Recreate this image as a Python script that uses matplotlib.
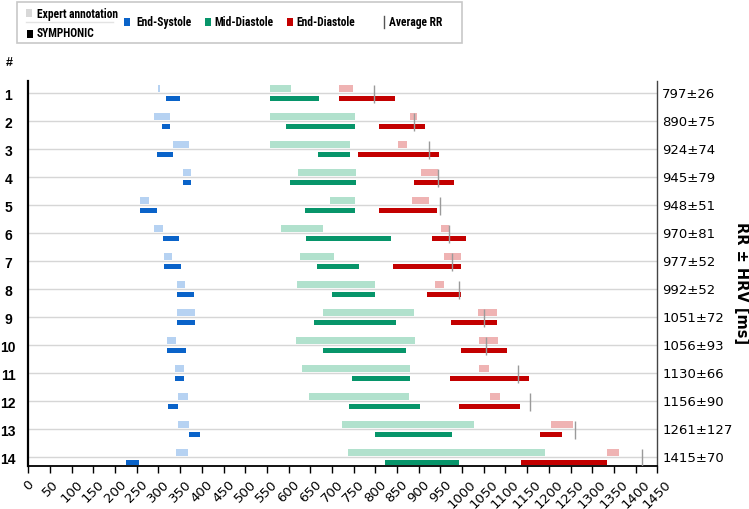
import matplotlib
matplotlib.use("Agg")
import matplotlib.pyplot as plt
from matplotlib import font_manager
from matplotlib.patches import Rectangle
from matplotlib.lines import Line2D
import numpy as np

# ---------------- data ----------------
rows = list(range(1, 15))
exp_es = [(300, 303), (290, 326), (334, 371), (357, 376), (258, 278), (290, 310), (313, 331),
          (342, 361), (342, 384), (320, 341), (338, 360), (346, 368), (345, 370), (341, 368)]
sym_es = [(318, 350), (308, 326), (297, 334), (357, 376), (258, 296), (310, 348), (313, 351),
          (342, 381), (342, 384), (320, 363), (338, 360), (322, 345), (370, 395), (226, 255)]
exp_md = [(558, 605), (558, 754), (558, 742), (622, 755), (695, 752), (583, 679), (626, 704),
          (619, 799), (679, 890), (617, 891), (632, 881), (647, 878), (723, 1027), (737, 1191)]
sym_md = [(558, 669), (593, 754), (668, 742), (603, 755), (638, 752), (640, 835), (665, 762),
          (700, 799), (659, 848), (680, 871), (746, 881), (739, 902), (800, 976), (822, 992)]
exp_ed = [(717, 749), (880, 897), (853, 872), (905, 944), (885, 924), (951, 970), (958, 998),
          (938, 958), (1037, 1080), (1040, 1083), (1039, 1062), (1064, 1087), (1205, 1255), (1333, 1362)]
sym_ed = [(717, 845), (808, 914), (761, 946), (888, 982), (809, 942), (931, 1010), (841, 998),
          (918, 998), (974, 1080), (998, 1103), (971, 1154), (994, 1134), (1179, 1230), (1135, 1333)]
rr = [797, 890, 924, 945, 948, 970, 977, 992, 1051, 1056, 1130, 1156, 1261, 1415]
hrv = [26, 75, 74, 79, 51, 81, 52, 52, 72, 93, 66, 90, 127, 70]
xticks = list(range(0, 1451, 50))
legend_labels = ["Expert annotation", "SYMPHONIC", "End-Systole", "Mid-Diastole",
                 "End-Diastole", "Average RR"]

# ---------------- style ----------------
C_ES, C_ES_L = "#0a63c9", "#b6d2f2"
C_MD, C_MD_L = "#07956a", "#b1e1cd"
C_ED, C_ED_L = "#c30000", "#efb3b3"
C_RR = "#9a9a9a"
ARIAL = ["Liberation Sans", "DejaVu Sans"]

_names = {f.name for f in font_manager.fontManager.ttflist}
if "Liberation Sans Narrow" in _names:
    LFAM, LWT, LSZ = ["Liberation Sans Narrow", "DejaVu Sans"], "bold", 8.3
elif "Roboto Condensed" in _names:
    LFAM, LWT, LSZ = ["Roboto Condensed", "DejaVu Sans"], "bold", 8.3
elif "DejaVu Sans Condensed" in _names:
    LFAM, LWT, LSZ = ["DejaVu Sans Condensed", "DejaVu Sans"], "bold", 7.4
else:
    LFAM, LWT, LSZ = ["Liberation Sans", "DejaVu Sans"], "normal", 8.0

W, H = 749, 510
fig = plt.figure(figsize=(W / 100, H / 100), dpi=100)

def fx(px):
    return px / W

def fy(py):
    return 1 - py / H

ax_l, ax_r, ax_t, ax_b = 28.3, 657.3, 82, 467.3
ax = fig.add_axes([fx(ax_l), fy(ax_b), fx(ax_r - ax_l), (ax_b - ax_t) / H])

ys = np.array(rows, dtype=float)
for i in rows:
    ax.axhline(i, color="#d6d6d6", lw=1, zorder=0)

def draw(pairs, color, off, h):
    starts = np.array([p[0] for p in pairs])
    widths = np.array([p[1] - p[0] for p in pairs])
    ax.barh(ys + off, widths, left=starts, height=h, color=color, edgecolor="none", zorder=2)

draw(exp_es, C_ES_L, -0.165, 0.23)
draw(exp_md, C_MD_L, -0.165, 0.23)
draw(exp_ed, C_ED_L, -0.165, 0.23)
draw(sym_es, C_ES, 0.19, 0.2)
draw(sym_md, C_MD, 0.19, 0.2)
draw(sym_ed, C_ED, 0.19, 0.2)

ax.vlines(rr, ys - 0.31, ys + 0.33, color=C_RR, lw=1.0, zorder=3)

ax.set_xlim(0, 1450)
ax.set_ylim(14.32, 0.56)
ax.set_xticks(xticks)
ax.set_xticklabels([str(t) for t in xticks], rotation=45, fontsize=9.5)
ax.tick_params(axis="x", length=5, width=1, color="black", pad=2.5)
ax.set_yticks([])
ax.spines["top"].set_visible(False)
ax.spines["left"].set_linewidth(1.6)
ax.spines["bottom"].set_linewidth(1.3)
ax.spines["right"].set_color("#444444")
ax.spines["right"].set_linewidth(1.0)

# row labels and RR labels
for i, r, h in zip(rows, rr, hrv):
    ax.text(-20 / 0.4338, i + 0.07, str(i), ha="center", va="center",
            fontsize=10, fontweight="bold", family=ARIAL, clip_on=False)
    ax.text(1450 + 5 / 0.4338, i, f"{r}\u00b1{h}", ha="left", va="center",
            fontsize=9.5, clip_on=False)

fig.text(fx(9.5), fy(62.5), "#", ha="center", va="center", fontsize=9,
         fontweight="bold", family=ARIAL)
fig.text(fx(742), fy(283), "RR \u00b1 HRV [ms]", rotation=-90, ha="center", va="center",
         fontsize=10.5, fontweight="bold")

# ---------------- legend ----------------
lg = fig.add_axes([0, 0, 1, 1], zorder=5)
lg.set_xlim(0, W)
lg.set_ylim(H, 0)
lg.axis("off")
lg.add_patch(Rectangle((17.3, 2.7), 444.4, 41.3, facecolor="white", edgecolor="#c8c8c8", lw=1.2))
lg.add_patch(Rectangle((26, 10), 6.3, 8.3, facecolor="#d8d8d8", edgecolor="none"))
lg.add_line(Line2D([26, 113], [22.7, 22.7], color="#e3e3e3", lw=1))
lg.add_patch(Rectangle((26.5, 31), 6, 8.3, facecolor="black", edgecolor="none"))
lg.add_patch(Rectangle((124.3, 19), 5.7, 7.5, facecolor=C_ES, edgecolor="none"))
lg.add_patch(Rectangle((205, 19), 6, 7.5, facecolor=C_MD, edgecolor="none"))
lg.add_patch(Rectangle((286.7, 19), 6, 7.5, facecolor=C_ED, edgecolor="none"))
lg.add_line(Line2D([384.3, 384.3], [16.7, 29], color="#555555", lw=1))
lkw = dict(fontsize=LSZ, fontweight=LWT, family=LFAM, va="center", ha="left")
leg_pos = [(36.7, 14.8), (36.7, 33.5), (136.3, 22.7), (214.3, 22.7), (296, 22.7), (389, 22.7)]
for (px, py), lab in zip(leg_pos, legend_labels):
    lg.text(px, py, lab, **lkw)

fig.savefig("out.png", dpi=100)
